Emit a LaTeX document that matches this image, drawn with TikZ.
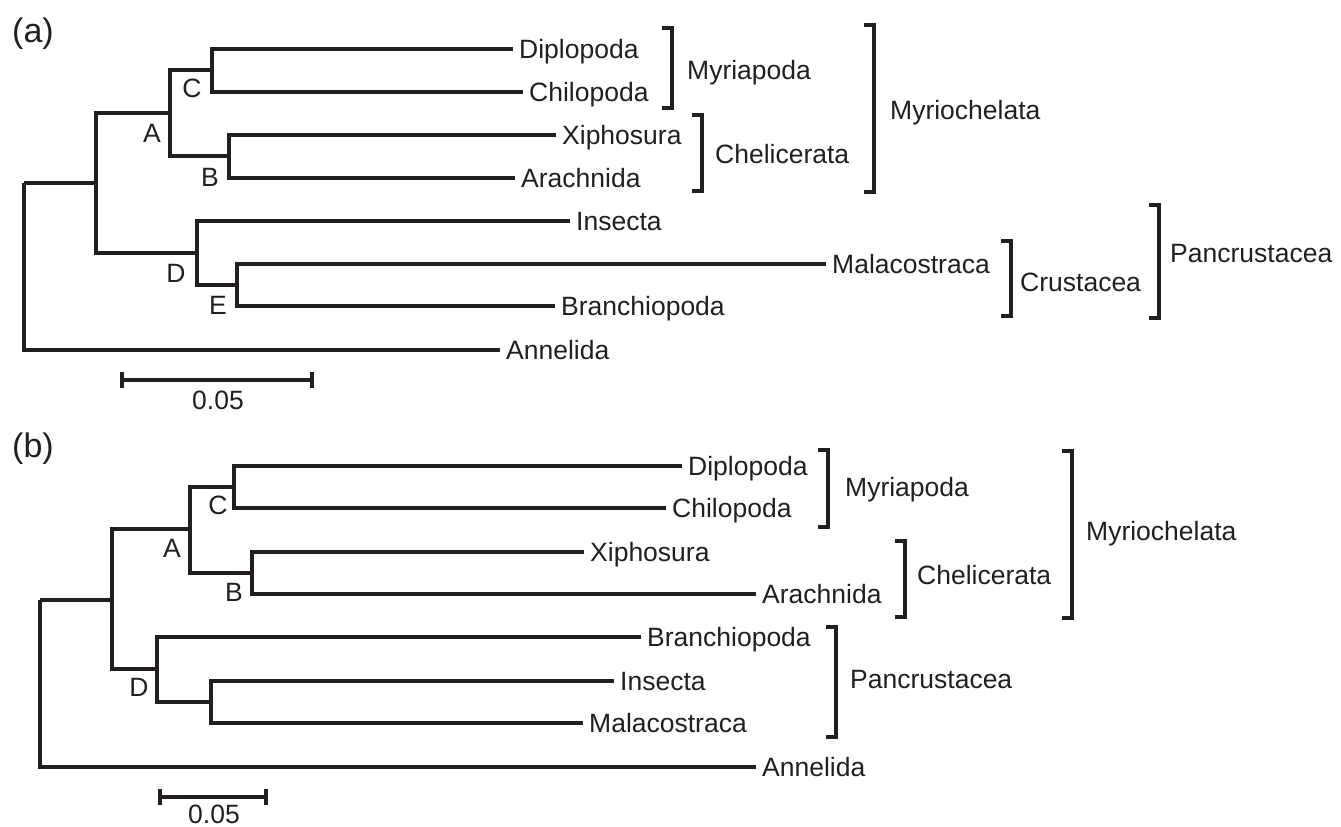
\documentclass[tikz,border=0pt]{standalone}
\usepackage{fontspec}
\setmainfont{Liberation Sans}
\definecolor{ink}{HTML}{231F20}
\begin{document}
\begin{tikzpicture}[x=1pt,y=-1pt,
  branch/.style={draw=ink, line width=3.4pt, line join=miter},
  brack/.style={draw=ink, line width=3.4pt, line join=miter},
  leaf/.style={anchor=west, inner xsep=6pt, inner ysep=0pt, text height=19pt, text depth=0pt, text=ink, font=\fontsize{26.5}{30}\selectfont},
  clade/.style={anchor=west, inner sep=0pt, text height=19pt, text depth=0pt, text=ink, font=\fontsize{26.5}{30}\selectfont},
  inlab/.style={inner sep=0pt, text=ink, font=\fontsize{26.5}{30}\selectfont},
  panel/.style={inner sep=0pt, text=ink, font=\fontsize{34}{40}\selectfont}]
\useasboundingbox (0,0) rectangle (1341,827);

% ---------------- panel (a) ----------------
\node[panel] (pa) at (33,34) {(a)};
\coordinate (aR) at (24,183);
\coordinate (aN) at (96,183);
\coordinate (aA) at (170,113);
\coordinate (aC) at (212,70);
\coordinate (aB) at (229,156);
\coordinate (aD) at (197,253);
\coordinate (aE) at (237,285);
\node[leaf] (aDip) at (513,49) {Diplopoda};
\node[leaf] (aChi) at (523,92) {Chilopoda};
\node[leaf] (aXip) at (556,135) {Xiphosura};
\node[leaf] (aAra) at (515,178) {Arachnida};
\node[leaf] (aIns) at (570,221) {Insecta};
\node[leaf] (aMal) at (826,264) {Malacostraca};
\node[leaf] (aBra) at (555,306) {Branchiopoda};
\node[leaf] (aAnn) at (500,350) {Annelida};
\draw[branch] (aR) -- (aN);
\draw[branch] (aR) |- (aAnn.west);
\draw[branch] (aN) |- (aA);
\draw[branch] (aN) |- (aD);
\draw[branch] (aA) |- (aC);
\draw[branch] (aA) |- (aB);
\draw[branch] (aC) |- (aDip.west);
\draw[branch] (aC) |- (aChi.west);
\draw[branch] (aB) |- (aXip.west);
\draw[branch] (aB) |- (aAra.west);
\draw[branch] (aD) |- (aIns.west);
\draw[branch] (aD) |- (aE);
\draw[branch] (aE) |- (aMal.west);
\draw[branch] (aE) |- (aBra.west);
\node[inlab] (aLC) at (192,88) {C};
\node[inlab] (aLA) at (152,133) {A};
\node[inlab] (aLB) at (210,177) {B};
\node[inlab] (aLD) at (176,273) {D};
\node[inlab] (aLE) at (218,305) {E};
% scale bar
\coordinate (asL) at (122,380);
\coordinate (asR) at (312,380);
\draw[branch] (asL) -- (asR);
\draw[branch] (asL) ++(0,-8) -- ++(0,16);
\draw[branch] (asR) ++(0,-8) -- ++(0,16);
\node[inlab] (aSc) at (218,400) {0.05};
% brackets
\draw[brack] (662,28) -- (672,28) -- (672,108) -- (662,108);
\node[clade] (aMyr) at (687,70) {Myriapoda};
\draw[brack] (692,115) -- (702,115) -- (702,191) -- (692,191);
\node[clade] (aChe) at (715,154) {Chelicerata};
\draw[brack] (864,25) -- (874,25) -- (874,192) -- (864,192);
\node[clade] (aMch) at (890,110) {Myriochelata};
\draw[brack] (1001,241) -- (1011,241) -- (1011,316) -- (1001,316);
\node[clade] (aCru) at (1020,282) {Crustacea};
\draw[brack] (1149,205) -- (1159,205) -- (1159,318) -- (1149,318);
\node[clade] (aPan) at (1170,253) {Pancrustacea};

% ---------------- panel (b) ----------------
\node[panel] (pb) at (33,449) {(b)};
\coordinate (bR) at (40,600);
\coordinate (bN) at (112,600);
\coordinate (bA) at (190,529);
\coordinate (bC) at (234,487);
\coordinate (bB) at (252,573);
\coordinate (bD) at (157,669);
\coordinate (bP) at (211,702);
\node[leaf] (bDip) at (682,466) {Diplopoda};
\node[leaf] (bChi) at (666,508) {Chilopoda};
\node[leaf] (bXip) at (584,552) {Xiphosura};
\node[leaf] (bAra) at (756,594) {Arachnida};
\node[leaf] (bBra) at (641,637) {Branchiopoda};
\node[leaf] (bIns) at (614,681) {Insecta};
\node[leaf] (bMal) at (583,723) {Malacostraca};
\node[leaf] (bAnn) at (756,767) {Annelida};
\draw[branch] (bR) -- (bN);
\draw[branch] (bR) |- (bAnn.west);
\draw[branch] (bN) |- (bA);
\draw[branch] (bN) |- (bD);
\draw[branch] (bA) |- (bC);
\draw[branch] (bA) |- (bB);
\draw[branch] (bC) |- (bDip.west);
\draw[branch] (bC) |- (bChi.west);
\draw[branch] (bB) |- (bXip.west);
\draw[branch] (bB) |- (bAra.west);
\draw[branch] (bD) |- (bBra.west);
\draw[branch] (bD) |- (bP);
\draw[branch] (bP) |- (bIns.west);
\draw[branch] (bP) |- (bMal.west);
\node[inlab] (bLC) at (218,505) {C};
\node[inlab] (bLA) at (172,548) {A};
\node[inlab] (bLB) at (234,592) {B};
\node[inlab] (bLD) at (139,687) {D};
% scale bar
\coordinate (bsL) at (160,797);
\coordinate (bsR) at (266,797);
\draw[branch] (bsL) -- (bsR);
\draw[branch] (bsL) ++(0,-8) -- ++(0,16);
\draw[branch] (bsR) ++(0,-8) -- ++(0,16);
\node[inlab] (bSc) at (214,814) {0.05};
% brackets
\draw[brack] (818,450) -- (828,450) -- (828,527) -- (818,527);
\node[clade] (bMyr) at (845,487) {Myriapoda};
\draw[brack] (895,541) -- (905,541) -- (905,617) -- (895,617);
\node[clade] (bChe) at (917,575) {Chelicerata};
\draw[brack] (1062,451) -- (1072,451) -- (1072,618) -- (1062,618);
\node[clade] (bMch) at (1086,531) {Myriochelata};
\draw[brack] (826,627) -- (836,627) -- (836,737) -- (826,737);
\node[clade] (bPan) at (850,679) {Pancrustacea};
\end{tikzpicture}
\end{document}
